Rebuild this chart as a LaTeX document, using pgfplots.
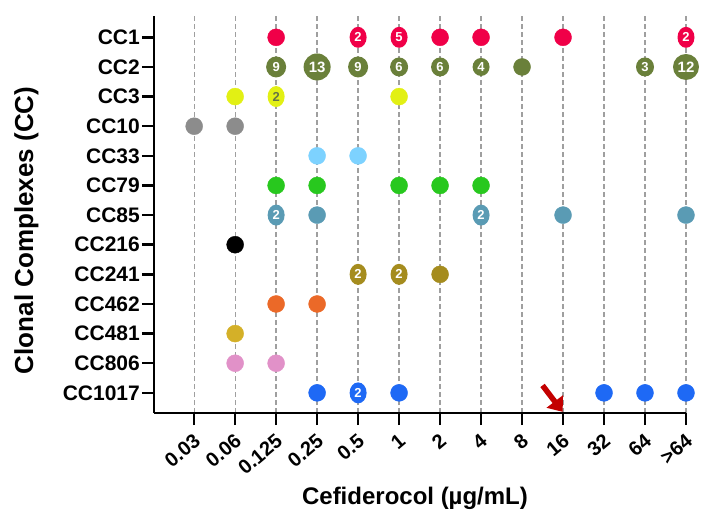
\documentclass[border=0pt]{standalone}
\usepackage{pgfplots}
\pgfplotsset{compat=1.18}
\usepackage{fontspec}
\setmainfont{Liberation Sans}
\usetikzlibrary{shapes.geometric,arrows.meta}
\definecolor{cA}{RGB}{240,0,72}
\definecolor{cB}{RGB}{106,128,58}
\definecolor{cC}{RGB}{226,240,20}
\definecolor{cD}{RGB}{140,140,140}
\definecolor{cE}{RGB}{125,210,255}
\definecolor{cF}{RGB}{40,200,30}
\definecolor{cG}{RGB}{90,155,180}
\definecolor{cH}{RGB}{0,0,0}
\definecolor{cI}{RGB}{165,140,30}
\definecolor{cJ}{RGB}{235,105,40}
\definecolor{cK}{RGB}{212,176,40}
\definecolor{cL}{RGB}{225,145,200}
\definecolor{cM}{RGB}{30,105,245}
\definecolor{arr}{RGB}{195,0,0}
\definecolor{labdark}{RGB}{100,115,70}
\pgfplotsset{
  dot/.style={only marks, mark=*, mark size=8.5bp, color=#1, fill=#1},
  lab/.style={draw=none, mark=none, point meta=explicit symbolic,
    visualization depends on={\thisrow{w} \as \ww},
    visualization depends on={\thisrow{h} \as \hh},
    nodes near coords, nodes near coords align={center},
    every node near coord/.append style={ellipse, fill=#1, inner sep=0pt,
      minimum width=\ww bp, minimum height=\hh bp, text=white, anchor=center,
      font=\bfseries\fontsize{13bp}{13bp}\selectfont}},
}
\begin{document}
\begin{tikzpicture}
\begin{axis}[name=ax,
  scale only axis, width=532bp, height=397bp,
  xmin=-0.98, xmax=12, ymin=-0.68, ymax=12.72,
  axis x line=bottom, axis y line=left,
  axis line style={-, line width=2.5bp, black},
  tick align=outside, major tick length=12bp,
  every tick/.style={black, line width=2.5bp},
  xtick={0,...,12},
  xticklabels={0.03,0.06,0.125,0.25,0.5,1,2,4,8,16,32,64,>64},
  ytick={0,...,12},
  yticklabels={CC1017,CC806,CC481,CC462,CC241,CC216,CC85,CC79,CC33,CC10,CC3,CC2,CC1},
  ticklabel style={font=\bfseries\fontsize{20bp}{20bp}\selectfont},
  yticklabel style={font=\bfseries\fontsize{21bp}{21bp}\selectfont, inner sep=2bp},
  xticklabel style={rotate=40, anchor=north east, inner sep=2bp, xshift=-4bp, yshift=-3bp},
  xmajorgrids,
  major grid style={dashed, gray!75, line width=1.3bp, dash pattern=on 5bp off 3bp},
  xlabel={Cefiderocol (µg/mL)},
  ylabel={Clonal Complexes (CC)},
  xlabel style={font=\bfseries\fontsize{24bp}{24bp}\selectfont, at={(rel axis cs:0.5,0)}, anchor=north, yshift=-71bp, xshift=-5bp},
  ylabel style={font=\bfseries\fontsize{26bp}{26bp}\selectfont, at={(rel axis cs:0,0.46)}, anchor=south, yshift=112bp},
  clip=false,
]
% CC1 (y=12)
\addplot[dot=cA] table {
x y
2 12
6 12
7 12
9 12
};
\addplot[lab=cA] table[meta=lab] {
x y w h lab
4 12 17 21 2
5 12 17 21 5
12 12 17 21 2
};
% CC2 (y=11)
\addplot[dot=cB] table {
x y
8 11
};
\addplot[lab=cB] table[meta=lab] {
x y w h lab
2 11 20 21 9
4 11 20 21 9
5 11 18 19 6
6 11 18 19 6
7 11 17 18 4
11 11 18 19 3
};
\addplot[lab=cB, every node near coord/.append style={font=\bfseries\fontsize{15bp}{15bp}\selectfont}] table[meta=lab] {
x y w h lab
3 11 27 27 13
12 11 26 26 12
};
% CC3 (y=10)
\addplot[dot=cC] table {
x y
1 10
5 10
};
\addplot[lab=cC, every node near coord/.append style={text=labdark}] table[meta=lab] {
x y w h lab
2 10 17 21 2
};
% CC10 (y=9)
\addplot[dot=cD] table {
x y
0 9
1 9
};
% CC33 (y=8)
\addplot[dot=cE] table {
x y
3 8
4 8
};
% CC79 (y=7)
\addplot[dot=cF] table {
x y
2 7
3 7
5 7
6 7
7 7
};
% CC85 (y=6)
\addplot[dot=cG] table {
x y
3 6
9 6
12 6
};
\addplot[lab=cG] table[meta=lab] {
x y w h lab
2 6 17 21 2
7 6 17 21 2
};
% CC216 (y=5)
\addplot[dot=cH] table {
x y
1 5
};
% CC241 (y=4)
\addplot[dot=cI] table {
x y
6 4
};
\addplot[lab=cI] table[meta=lab] {
x y w h lab
4 4 17 21 2
5 4 17 21 2
};
% CC462 (y=3)
\addplot[dot=cJ] table {
x y
2 3
3 3
};
% CC481 (y=2)
\addplot[dot=cK] table {
x y
1 2
};
% CC806 (y=1)
\addplot[dot=cL] table {
x y
1 1
2 1
};
% CC1017 (y=0)
\addplot[dot=cM] table {
x y
3 0
5 0
10 0
11 0
12 0
};
\addplot[lab=cM] table[meta=lab] {
x y w h lab
4 0 17 21 2
};
\draw[arr, line width=5.5bp, -{Triangle[length=13bp, width=20bp]}] (axis cs:8.5,0.25) -- (axis cs:8.99,-0.64);
\end{axis}
\path ([xshift=-154bp, yshift=-107bp]ax.south west) rectangle ([xshift=34bp, yshift=16bp]ax.north east);
\end{tikzpicture}
\end{document}
